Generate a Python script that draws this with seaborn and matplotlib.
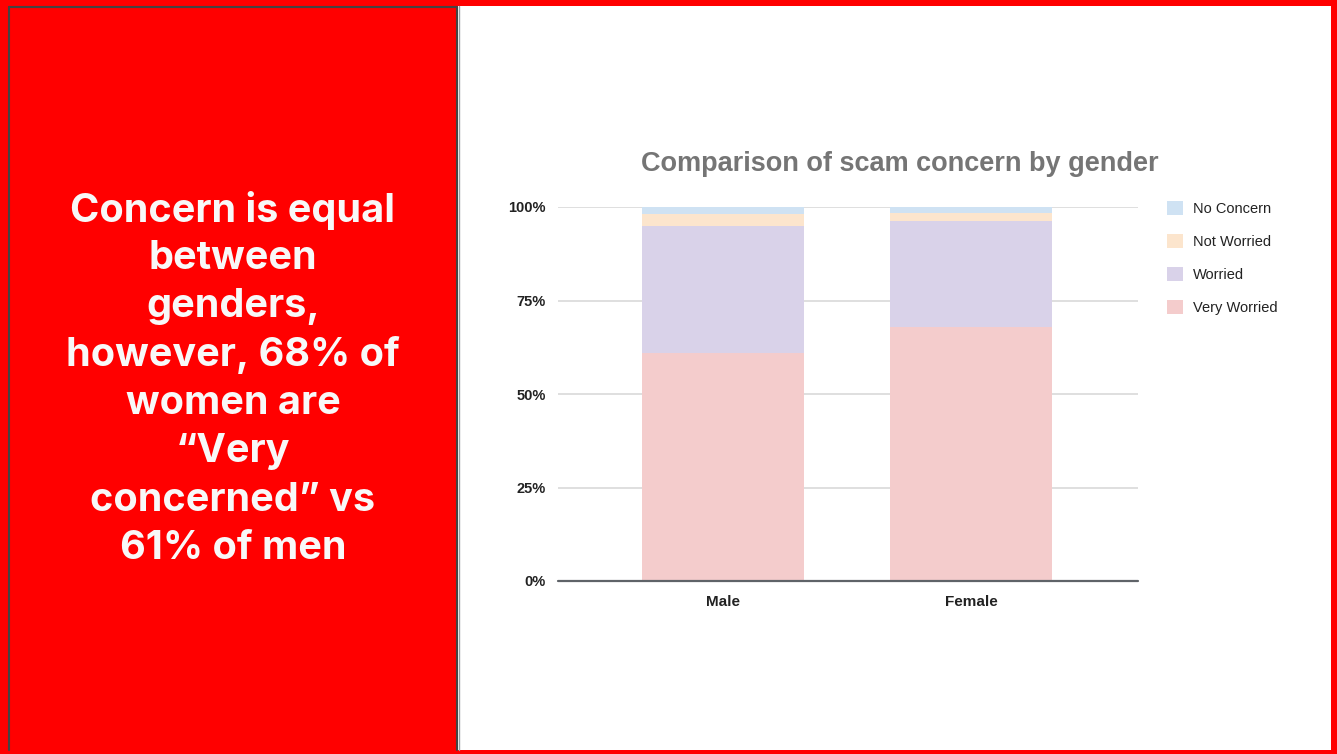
import matplotlib
matplotlib.use("Agg")
import matplotlib.pyplot as plt
from matplotlib.patches import Rectangle, Patch
from matplotlib.lines import Line2D
from matplotlib.ticker import FuncFormatter
import numpy as np
import pandas as pd
import seaborn as sns

# Survey shares (%) by gender
genders = ["Male", "Female"]
very_worried = [61, 68]
worried = [34, 28.3]
not_worried = [3, 2.2]
no_concern = [2, 1.5]

series_names = ["No Concern", "Not Worried", "Worried", "Very Worried"]
series_colors = ["#cfe2f3", "#fce5cd", "#d9d2e9", "#f4cccc"]

headline_lines = [
    "Concern is equal",
    "between",
    "genders,",
    "however, 68% of",
    "women are",
    "\u201cVery",
    "concerned\u201d vs",
    "61% of men",
]
y_ticks = [0, 25, 50, 75, 100]

W, H = 1337, 754
sns.set_theme(style="white")
plt.rcParams["font.family"] = ["Liberation Sans", "DejaVu Sans"]

fig = plt.figure(figsize=(W / 100, H / 100), dpi=100)
fig.patch.set_facecolor("white")


def px_rect(x0, y0, x1, y1, **kw):
    return Rectangle((x0 / W, 1 - y1 / H), (x1 - x0) / W, (y1 - y0) / H,
                     transform=fig.transFigure, **kw)


# Slide frame: red background, white chart panel, outlined text panel
fig.patches.append(px_rect(0, 0, W, H, facecolor="#ff0000", edgecolor="none", zorder=0))
fig.patches.append(px_rect(458, 6, 1331, 750, facecolor="white", edgecolor="none", zorder=1))
for (xa, ya, xb, yb) in [(8.5, 6.5, 8.5, 750), (8.5, 6.5, 457, 6.5), (457, 6.5, 457, 750)]:
    fig.lines.append(Line2D([xa / W, xb / W], [1 - ya / H, 1 - yb / H],
                            transform=fig.transFigure, color="#444444", lw=1.5, zorder=2))
fig.lines.append(Line2D([458.5 / W, 458.5 / W], [1 - 6 / H, 1 - 750 / H],
                        transform=fig.transFigure, color="#9aa0a6", lw=1, zorder=2))

# Headline text on the red panel
y0, dy = 210, 48.4
for i, line in enumerate(headline_lines):
    fig.text(233 / W, 1 - (y0 + i * dy) / H, line, ha="center", va="center",
             color="#f8f8f8", fontsize=28.5, fontweight="bold",
             family=["Inter", "DejaVu Sans"], zorder=3)

# Stacked bar chart
df = pd.DataFrame({
    "gender": genders,
    "Very Worried": very_worried,
    "Worried": worried,
    "Not Worried": not_worried,
    "No Concern": no_concern,
})
stack_order = ["Very Worried", "Worried", "Not Worried", "No Concern"]
cum = df[stack_order].cumsum(axis=1)

ax = fig.add_axes([558 / W, 1 - 581 / H, 580 / W, 374 / H])
ax.set_facecolor("none")
ax.set_zorder(3)
color_map = dict(zip(series_names, series_colors))
for name in reversed(stack_order):
    sns.barplot(x=df["gender"], y=cum[name], color=color_map[name], width=0.65,
                saturation=1, ax=ax, order=genders, zorder=2, edgecolor="none")

ax.set_ylim(0, 100)
ax.set_xlim(-0.665, 1.673)
ax.set_yticks(y_ticks)
ax.yaxis.set_major_formatter(FuncFormatter(lambda v, p: f"{int(v)}%"))
for t in y_ticks[1:]:
    ax.axhline(t, color="#d9d9d9", lw=1.2, zorder=1)
ax.axhline(0, color="#5f6368", lw=1.6, zorder=3, clip_on=False)
for s in ax.spines.values():
    s.set_visible(False)
ax.set_xlabel("")
ax.set_ylabel("")
ax.tick_params(axis="y", length=0, pad=9, labelsize=10.5, labelcolor="#222222")
ax.tick_params(axis="x", length=0, pad=10, labelsize=11, labelcolor="#222222")
for lab in ax.get_yticklabels() + ax.get_xticklabels():
    lab.set_fontweight("bold")

# Title
fig.text(900 / W, 1 - 164 / H, "Comparison of scam concern by gender", ha="center",
         va="center", color="#757575", fontsize=19.5, fontweight="bold", zorder=3)

# Legend
handles = [Patch(facecolor=c, edgecolor="none", label=n) for n, c in zip(series_names, series_colors)]
leg = fig.legend(handles=handles, loc="upper left", bbox_to_anchor=(1154 / W, 1 - 188 / H),
                 frameon=False, fontsize=10.5, handlelength=1.1, handleheight=1.1,
                 labelspacing=1.24, handletextpad=0.7, labelcolor="#222222")
leg.set_zorder(4)

fig.savefig("out.png", dpi=100)
